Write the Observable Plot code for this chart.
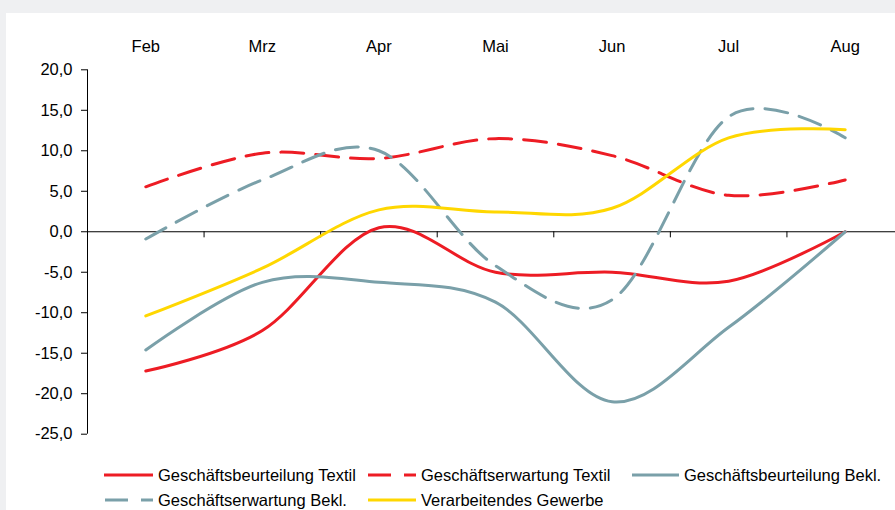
<!DOCTYPE html>
<html>
<head>
<meta charset="utf-8">
<script src="https://cdn.jsdelivr.net/npm/d3@7"></script>
<script src="https://cdn.jsdelivr.net/npm/@observablehq/plot@0.6"></script>
<style>
  html, body { margin: 0; padding: 0; width: 895px; height: 510px; overflow: hidden; background: #eff0f2; font-family: "Liberation Sans", Arial, sans-serif; }
  #panel { position: absolute; left: 6px; top: 12.5px; right: 0; bottom: 0; background: #ffffff; }
  #chart { position: absolute; left: 0; top: 0; }
  .leg { position: absolute; display: flex; align-items: center; font-size: 16.5px; color: #000; white-space: nowrap; }
  .leg svg { margin-right: 5px; }
</style>
</head>
<body>
<div id="panel"></div>
<div id="chart"></div>
<div id="legend"></div>
<script>
// ---- data ----
const months = ["Feb", "Mrz", "Apr", "Mai", "Jun", "Jul", "Aug"];
const beurteilungTextil = [-17.2, -12.2, 0.5, -5.0, -5.0, -6.1, 0.0];
const erwartungTextil   = [5.55, 9.7, 9.05, 11.5, 9.4, 4.5, 6.4];
const beurteilungBekl   = [-14.6, -6.25, -6.25, -8.7, -21.0, -11.8, 0.0];
const erwartungBekl     = [-0.9, 6.4, 10.0, -4.2, -8.4, 14.2, 11.6];
const verarbeitendes    = [-10.4, -4.5, 2.7, 2.45, 2.9, 11.6, 12.6];
const yTicks = [-25, -20, -15, -10, -5, 0, 5, 10, 15, 20];
const seriesNames = [
  "Geschäftsbeurteilung Textil",
  "Geschäftserwartung Textil",
  "Geschäftsbeurteilung Bekl.",
  "Geschäftserwartung Bekl.",
  "Verarbeitendes Gewerbe"
];

const RED = "#ed1c24", GRAY = "#7aa0a9", YELLOW = "#ffd700";
const styles = [
  {stroke: RED, dash: null},
  {stroke: RED, dash: "23,12"},
  {stroke: GRAY, dash: null},
  {stroke: GRAY, dash: "23,12"},
  {stroke: YELLOW, dash: null}
];
const allSeries = [beurteilungTextil, erwartungTextil, beurteilungBekl, erwartungBekl, verarbeitendes];

const idx = months.map((m, i) => i);
const boundaries = idx.slice(0, -1).map(i => i + 0.5);
const fmt = v => d3.format(".1f")(v).replace(".", ",").replace("−", "-");

const lineMarks = allSeries.map((vals, s) =>
  Plot.line(vals.map((v, i) => ({i, v})), {
    x: "i", y: "v",
    stroke: styles[s].stroke,
    strokeWidth: 3,
    strokeDasharray: styles[s].dash,
    curve: "cardinal"
  })
);

const chart = Plot.plot({
  width: 895,
  height: 450,
  marginTop: 69,
  marginBottom: 16,
  marginLeft: 87,
  marginRight: 0,
  style: {background: "transparent", fontFamily: "'Liberation Sans', Arial, sans-serif", fontSize: "16.5px", overflow: "visible", color: "#000"},
  x: {domain: [-0.5, 6.5], range: [87, 903], axis: null},
  y: {domain: [-25, 20], range: [433.7, 69.3], axis: null},
  marks: [
    Plot.axisY({ticks: yTicks, tickFormat: fmt, tickSize: 6, tickPadding: 9, fontSize: 16.5, stroke: "#000", label: null}),
    Plot.ruleX([-0.5], {y1: -25, y2: 20, stroke: "#000", strokeWidth: 1}),
    Plot.ruleY([0], {x1: -0.5, x2: 6.5, stroke: "#000", strokeWidth: 1}),
    Plot.ruleX(boundaries, {x: d => d, y1: 0, y2: -0.75, stroke: "#000", strokeWidth: 1}),
    Plot.text(idx, {x: d => d, y: () => 20, dy: -23, text: d => months[d], fontSize: 16.5, fill: "#000"}),
    ...lineMarks
  ]
});
document.getElementById("chart").appendChild(chart);

// ---- legend ----
const legendPos = [
  {left: 104, top: 475, w: 49},
  {left: 368, top: 475, w: 48},
  {left: 632, top: 475, w: 47},
  {left: 105, top: 500, w: 48},
  {left: 368, top: 500, w: 48}
];
const legend = document.getElementById("legend");
seriesNames.forEach((name, s) => {
  const p = legendPos[s];
  const div = document.createElement("div");
  div.className = "leg";
  div.style.left = p.left + "px";
  div.style.top = (p.top - 11) + "px";
  div.style.height = "22px";
  const dash = styles[s].dash ? `stroke-dasharray="23,13"` : "";
  div.innerHTML = `<svg width="${p.w}" height="6"><line x1="0" x2="${p.w}" y1="3" y2="3" stroke="${styles[s].stroke}" stroke-width="3" ${dash}/></svg><span>${name}</span>`;
  legend.appendChild(div);
});
</script>
</body>
</html>
